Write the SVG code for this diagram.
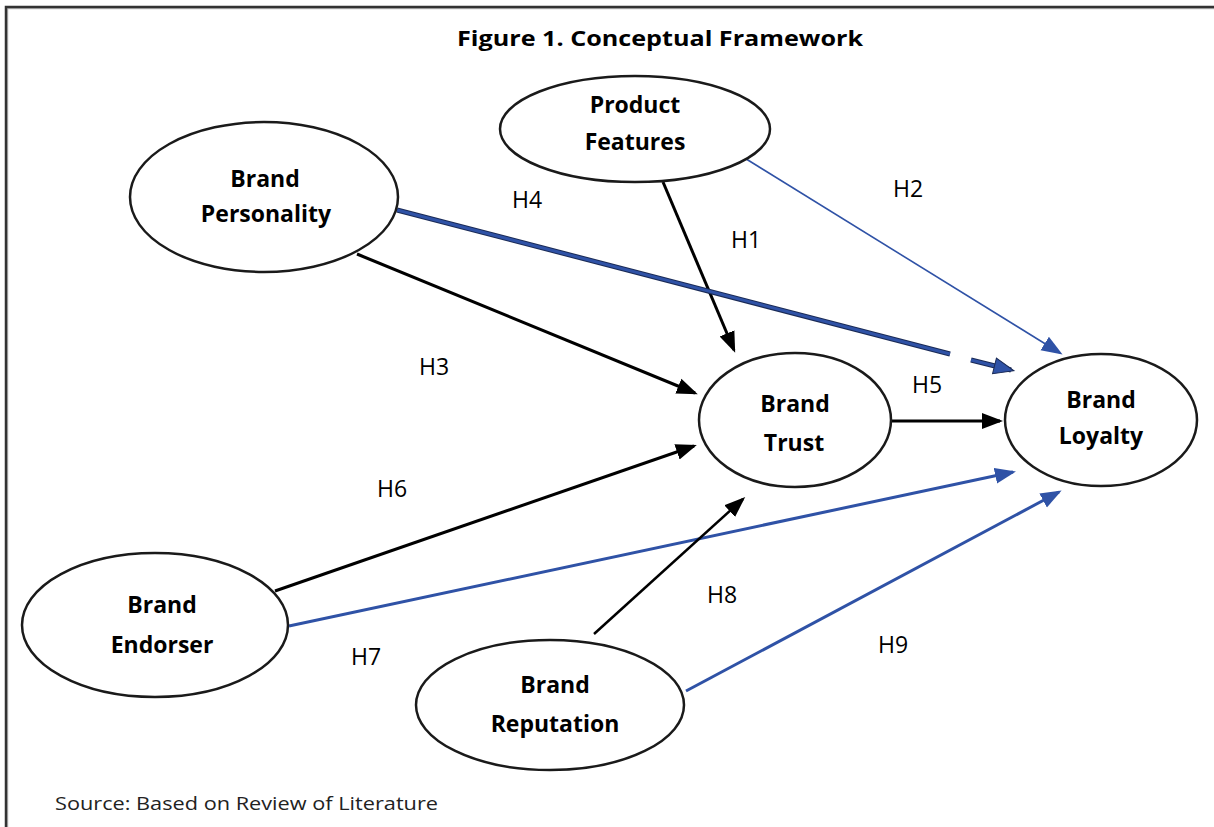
<svg xmlns="http://www.w3.org/2000/svg" width="1214" height="827" viewBox="0 0 1214 827">
  <style>
    .node ellipse { fill: #ffffff; stroke: #1a1a1a; stroke-width: 2.5; }
    .node text { font-family: "Open Sans", "Noto Sans", sans-serif; font-weight: bold; font-size: 23px; fill: #000; text-anchor: middle; }
    .lbl { font-family: "Open Sans", "Noto Sans", sans-serif; font-size: 23px; fill: #000; text-anchor: middle; }
    .blk { stroke: #000; stroke-width: 3; fill: none; }
    .blu { stroke: #2f52a6; stroke-width: 3; fill: none; }
  </style>
  <defs>
    <marker id="ah-black" markerUnits="userSpaceOnUse" markerWidth="22" markerHeight="18" refX="18" refY="9" orient="auto">
      <path d="M0,1 L21,9 L0,17 z" fill="#000"/>
    </marker>
    <marker id="ah-blue" markerUnits="userSpaceOnUse" markerWidth="22" markerHeight="18" refX="18" refY="9" orient="auto">
      <path d="M0,1 L21,9 L0,17 z" fill="#2f52a6"/>
    </marker>
    <marker id="ah-blue-outline" markerUnits="userSpaceOnUse" markerWidth="24" markerHeight="20" refX="18" refY="10" orient="auto">
      <path d="M1,2 L21,10 L1,18 z" fill="#2f52a6" stroke="#1a2a55" stroke-width="1"/>
    </marker>
  </defs>

  <rect width="1214" height="827" fill="#ffffff"/>

  <!-- frame, open to the right and bottom -->
  <path d="M7.5,830 V8.5 H1220" fill="none" stroke="#bbbbbb" stroke-width="1.5"/>
  <path d="M6,830 V7 H1220" fill="none" stroke="#333333" stroke-width="2.5"/>

  <text x="660" y="46" font-family="Open Sans, Noto Sans, sans-serif" font-weight="bold" font-size="21" text-anchor="middle" textLength="406" lengthAdjust="spacingAndGlyphs">Figure 1. Conceptual Framework</text>

  <!-- connectors -->
  <g id="connectors">
    <!-- H1 -->
    <line class="blk" x1="663" y1="182" x2="734" y2="350" marker-end="url(#ah-black)"/>
    <!-- H2 -->
    <line class="blu" style="stroke-width:1.6" x1="743" y1="157" x2="1060" y2="353" marker-end="url(#ah-blue)"/>
    <!-- H4 (outlined blue, broken before the head) -->
    <line x1="397" y1="210" x2="950" y2="354" stroke="#1a2a55" stroke-width="5"/>
    <line x1="397" y1="210" x2="950" y2="354" stroke="#2f52a6" stroke-width="3"/>
    <line x1="971" y1="360" x2="1011" y2="370" stroke="#1a2a55" stroke-width="5"/>
    <line x1="971" y1="360" x2="1011" y2="370" stroke="#2f52a6" stroke-width="3" marker-end="url(#ah-blue-outline)"/>
    <!-- H3 -->
    <line class="blk" x1="357" y1="254" x2="695" y2="393" marker-end="url(#ah-black)"/>
    <!-- H5 -->
    <line class="blk" x1="889" y1="421" x2="1000" y2="421" marker-end="url(#ah-black)"/>
    <!-- H6 -->
    <line class="blk" x1="275" y1="591" x2="694" y2="446" marker-end="url(#ah-black)"/>
    <!-- H7 -->
    <line class="blu" x1="289" y1="626" x2="1013" y2="472" marker-end="url(#ah-blue)"/>
    <!-- H8 -->
    <line class="blk" style="stroke-width:2.5" x1="594" y1="634" x2="743" y2="499" marker-end="url(#ah-black)"/>
    <!-- H9 -->
    <line class="blu" x1="686" y1="691" x2="1059" y2="492" marker-end="url(#ah-blue)"/>
  </g>

  <!-- nodes -->
  <g id="product-features" class="node">
    <ellipse cx="635" cy="129" rx="135" ry="53"/>
    <text x="635" y="113">Product</text>
    <text x="635" y="150">Features</text>
  </g>
  <g id="brand-personality" class="node">
    <ellipse cx="264" cy="197" rx="134" ry="75"/>
    <text x="265" y="187">Brand</text>
    <text x="266" y="222">Personality</text>
  </g>
  <g id="brand-trust" class="node">
    <ellipse cx="795" cy="420" rx="96" ry="67"/>
    <text x="795" y="412">Brand</text>
    <text x="794" y="451">Trust</text>
  </g>
  <g id="brand-loyalty" class="node">
    <ellipse cx="1101" cy="420" rx="96" ry="66"/>
    <text x="1101" y="408">Brand</text>
    <text x="1101" y="444">Loyalty</text>
  </g>
  <g id="brand-endorser" class="node">
    <ellipse cx="155" cy="625" rx="133" ry="72"/>
    <text x="162" y="613">Brand</text>
    <text x="162" y="653">Endorser</text>
  </g>
  <g id="brand-reputation" class="node">
    <ellipse cx="550" cy="705" rx="134" ry="65"/>
    <text x="555" y="693">Brand</text>
    <text x="555" y="732">Reputation</text>
  </g>

  <!-- hypothesis labels -->
  <g id="labels">
    <text class="lbl" x="527" y="208">H4</text>
    <text class="lbl" x="908" y="197">H2</text>
    <text class="lbl" x="746" y="248">H1</text>
    <text class="lbl" x="434" y="375">H3</text>
    <text class="lbl" x="927" y="393">H5</text>
    <text class="lbl" x="392" y="497">H6</text>
    <text class="lbl" x="722" y="603">H8</text>
    <text class="lbl" x="366" y="665">H7</text>
    <text class="lbl" x="893" y="653">H9</text>
  </g>

  <text x="55" y="810" font-family="Open Sans, Noto Sans, sans-serif" font-size="19" fill="#222" textLength="383" lengthAdjust="spacingAndGlyphs">Source: Based on Review of Literature</text>
</svg>
